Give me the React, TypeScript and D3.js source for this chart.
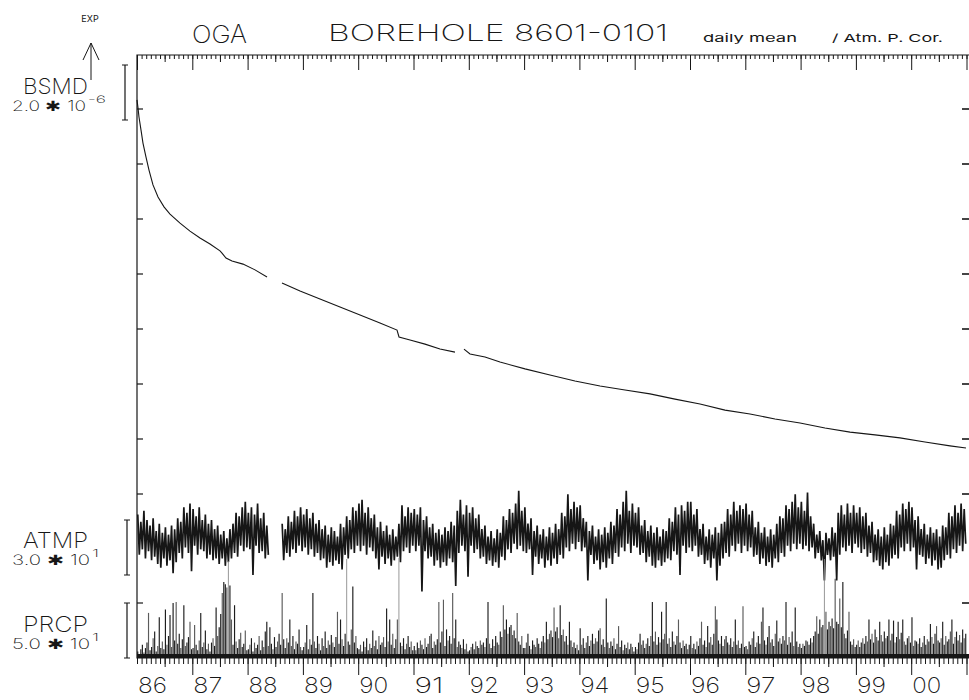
import { useEffect, useRef } from "react";
import * as d3 from "d3";

// time axis: Jan 1986 .. Jan 2001
const START_YEAR = 1986;
const END_YEAR = 2001;
const yearLabels = ["86", "87", "88", "89", "90", "91", "92", "93", "94", "95", "96", "97", "98", "99", "00"];

// BSMD strain in units of 1e-6, [decimal year, value]; null marks a data gap
const bsmdPoints: [number, number | null][] = [
  [1986.0, 0.33], [1986.018, 0.04], [1986.036, -0.29], [1986.072, -0.76], [1986.108, -1.24],
  [1986.163, -1.75], [1986.217, -2.22], [1986.289, -2.76], [1986.38, -3.2], [1986.488, -3.56],
  [1986.597, -3.82], [1986.778, -4.15], [1986.958, -4.44], [1987.139, -4.69], [1987.32, -4.91],
  [1987.501, -5.16], [1987.537, -5.24], [1987.609, -5.42], [1987.718, -5.53], [1987.917, -5.64],
  [1988.134, -5.85], [1988.351, -6.11], [1988.5, null],
  [1988.622, -6.33], [1988.948, -6.62], [1989.309, -6.91], [1989.671, -7.2], [1990.033, -7.49],
  [1990.394, -7.78], [1990.702, -8.04], [1990.738, -8.29], [1990.937, -8.4], [1991.208, -8.55],
  [1991.479, -8.73], [1991.75, -8.84], [1991.83, null],
  [1991.913, -8.73], [1992.022, -8.91], [1992.293, -9.02], [1992.564, -9.2], [1993.016, -9.45],
  [1993.468, -9.67], [1993.92, -9.89], [1994.373, -10.07], [1994.825, -10.22], [1995.277, -10.36],
  [1995.729, -10.55], [1996.181, -10.73], [1996.633, -10.95], [1997.085, -11.09], [1997.537, -11.27],
  [1997.99, -11.42], [1998.441, -11.6], [1998.894, -11.75], [1999.346, -11.85], [1999.797, -11.96],
  [2000.249, -12.11], [2000.702, -12.25], [2000.991, -12.33],
];

// ATMP (atmospheric pressure, hPa): 36 samples per year, alternating high / low
const atmp1986 = [1023, 1001, 1019, 1004, 1025, 999, 1020, 1003, 1017, 998, 1021, 1000, 1014, 996, 1018, 994, 1013, 999, 1016, 995, 1012, 998, 1017, 991, 1015, 997, 1021, 1002, 1019, 999, 1027, 1005, 1024, 1002, 1029, 992];
const atmp1987 = [1026, 1006, 1022, 1001, 1027, 1004, 1020, 1003, 1023, 999, 1018, 1001, 1020, 998, 1015, 999, 1017, 996, 1012, 999, 1014, 995, 1010, 997, 1015, 999, 1018, 1002, 1024, 1000, 1022, 1006, 1027, 1003, 1030, 1005];
const atmp1988 = [1024, 1004, 1027, 990, 1023, 1006, 1029, 1002, 1021, 1003, 1024, 999, 1017, 1001, null, null, null, null, null, null, null, null, 1018, 998, 1015, 1002, 1022, 1000, 1019, 1004, 1025, 1002, 1022, 1006, 1027, 1003];
const atmp1989 = [1023, 1005, 1026, 1001, 1021, 1004, 1024, 1000, 1018, 1002, 1020, 998, 1015, 999, 1017, 994, 1012, 997, 1016, 995, 1014, 998, 1011, 996, 1018, 993, 1016, 1001, 1022, 999, 1020, 1004, 1027, 1002, 1025, 1006];
const atmp1990 = [1029, 1003, 1031, 1006, 1024, 1001, 1027, 1005, 1021, 1003, 1023, 999, 1016, 993, 1019, 1000, 1014, 996, 1017, 999, 1012, 995, 1015, 998, 1011, 1000, 1018, 997, 1028, 1003, 1022, 1005, 1027, 1002, 1024, 1006];
const atmp1991 = [1026, 1003, 1023, 1006, 1027, 981, 1020, 1003, 1022, 999, 1016, 1000, 1018, 995, 1013, 998, 1015, 994, 1012, 997, 1016, 995, 1014, 999, 1019, 997, 1017, 984, 1025, 1002, 1031, 1006, 1023, 1003, 1028, 989];
const atmp1992 = [1024, 1006, 1027, 1002, 1021, 1004, 1023, 999, 1015, 1000, 1017, 996, 1011, 998, 1014, 995, 1010, 997, 1015, 994, 1013, 1000, 1022, 998, 1020, 1004, 1026, 1002, 1024, 1007, 1029, 1004, 1036, 1006, 1025, 1003];
const atmp1993 = [1027, 1002, 1018, 1004, 1021, 990, 1014, 1000, 1017, 996, 1012, 999, 1015, 994, 1011, 998, 1016, 995, 1013, 999, 1018, 996, 1015, 1001, 1024, 999, 1022, 1005, 1034, 1003, 1026, 1007, 1030, 1004, 1027, 1008];
const atmp1994 = [1028, 1003, 1021, 1005, 1019, 987, 1014, 1001, 1017, 996, 1011, 998, 1015, 993, 1012, 997, 1016, 994, 1013, 999, 1019, 996, 1017, 1002, 1026, 1000, 1023, 1005, 1030, 1003, 1036, 1007, 1025, 1002, 1029, 1006];
const atmp1995 = [1024, 1005, 1027, 1001, 1017, 1002, 1020, 997, 1014, 1000, 1017, 995, 1013, 994, 1016, 998, 1011, 995, 1015, 997, 1014, 999, 1021, 998, 1019, 1003, 1027, 1001, 1023, 990, 1028, 1006, 1025, 1002, 1030, 1005];
const atmp1996 = [1030, 1003, 1023, 1006, 1026, 1000, 1015, 1001, 1018, 996, 1011, 998, 1015, 994, 1012, 999, 1016, 987, 1013, 995, 1018, 999, 1019, 1002, 1026, 1000, 1023, 1006, 1030, 1003, 1025, 1007, 1028, 1002, 1026, 1006];
const atmp1997 = [1029, 1003, 1023, 1005, 1025, 1000, 1016, 1001, 1019, 996, 1013, 999, 1016, 995, 1011, 997, 1015, 994, 1012, 999, 1018, 997, 1022, 1002, 1021, 1000, 1028, 1006, 1026, 1003, 1030, 1007, 1034, 1004, 1027, 1007];
const atmp1998 = [1030, 1004, 1025, 1006, 1035, 1003, 1022, 1005, 1018, 999, 1012, 1002, 1014, 998, 1009, 987, 1013, 1001, 1010, 998, 1016, 1000, 1013, 987, 1024, 1001, 1028, 1005, 1023, 1003, 1029, 1006, 1024, 1002, 1028, 1007];
const atmp1999 = [1024, 1005, 1027, 1002, 1022, 1004, 1024, 1000, 1017, 1002, 1019, 997, 1012, 998, 1015, 995, 1011, 993, 1016, 997, 1012, 995, 1018, 999, 1017, 1001, 1025, 999, 1023, 1005, 1029, 1003, 1026, 1007, 1030, 1003];
const atmp2000 = [1027, 1005, 1020, 993, 1022, 1001, 1015, 1000, 1018, 996, 1012, 999, 1016, 995, 1013, 998, 1015, 993, 1011, 994, 1017, 998, 1016, 1001, 1024, 999, 1022, 1004, 1028, 1002, 1024, 1006, 1029, 1003, 1026, 1007];
const atmpByYear: (number | null)[][] = [atmp1986, atmp1987, atmp1988, atmp1989, atmp1990, atmp1991, atmp1992, atmp1993, atmp1994, atmp1995, atmp1996, atmp1997, atmp1998, atmp1999, atmp2000];

// PRCP (precipitation, mm): 36 ten-day maxima per year
const prcp1986 = [6, 3, 8, 12, 5, 9, 14, 41, 7, 10, 18, 24, 6, 11, 37, 9, 15, 8, 44, 12, 20, 39, 10, 50, 16, 51, 13, 22, 9, 17, 48, 11, 14, 19, 33, 8];
const prcp1987 = [9, 30, 12, 7, 16, 41, 10, 14, 25, 8, 13, 6, 14, 18, 11, 46, 20, 28, 40, 59, 69, 67, 64, 88, 66, 35, 12, 48, 15, 9, 17, 23, 10, 13, 25, 7];
const prcp1988 = [8, 12, 18, 6, 14, 9, 12, 20, 7, 16, 10, 24, 33, 11, 28, 13, 8, 19, 10, 15, 22, 12, 59, 17, 9, 18, 14, 35, 11, 20, 8, 15, 13, 26, 10, 7];
const prcp1989 = [10, 14, 30, 8, 17, 12, 59, 15, 9, 20, 13, 7, 18, 11, 24, 9, 16, 12, 21, 14, 10, 19, 42, 13, 35, 17, 11, 22, 90, 15, 12, 26, 65, 14, 20, 9];
const prcp1990 = [8, 12, 6, 15, 10, 18, 7, 13, 9, 25, 11, 16, 8, 20, 12, 14, 19, 10, 45, 15, 35, 12, 22, 9, 17, 35, 91, 14, 11, 18, 8, 13, 20, 10, 15, 7];
const prcp1991 = [11, 7, 14, 9, 16, 12, 8, 18, 10, 13, 20, 22, 9, 15, 12, 17, 51, 14, 24, 53, 11, 26, 16, 20, 13, 59, 18, 35, 10, 15, 12, 9, 17, 8, 13, 6];
const prcp1992 = [7, 10, 13, 8, 15, 11, 9, 16, 12, 14, 10, 18, 51, 13, 9, 17, 11, 20, 14, 12, 24, 19, 48, 26, 35, 22, 28, 30, 21, 25, 18, 41, 15, 12, 20, 9];
const prcp1993 = [9, 14, 22, 11, 8, 16, 12, 10, 18, 13, 9, 15, 20, 14, 33, 17, 22, 25, 19, 46, 24, 28, 18, 48, 21, 26, 15, 20, 12, 33, 16, 10, 14, 9, 12, 7];
const prcp1994 = [27, 12, 18, 9, 14, 20, 11, 16, 22, 13, 18, 15, 25, 27, 12, 17, 10, 54, 14, 9, 15, 11, 18, 8, 13, 29, 10, 16, 7, 12, 9, 14, 8, 13, 10, 6];
const prcp1995 = [10, 8, 14, 22, 12, 16, 9, 13, 18, 11, 20, 51, 15, 24, 12, 19, 14, 42, 17, 22, 51, 13, 18, 10, 24, 15, 12, 20, 35, 14, 9, 16, 11, 13, 8, 12];
const prcp1996 = [20, 9, 13, 8, 15, 11, 18, 33, 12, 16, 10, 29, 14, 19, 12, 22, 47, 35, 16, 13, 20, 11, 17, 20, 14, 12, 18, 10, 15, 35, 12, 16, 9, 13, 47, 10];
const prcp1997 = [11, 8, 15, 12, 18, 24, 10, 14, 20, 13, 33, 46, 16, 12, 19, 29, 14, 17, 11, 22, 34, 15, 18, 13, 20, 16, 51, 12, 19, 14, 24, 11, 46, 15, 10, 13];
const prcp1998 = [9, 13, 11, 16, 15, 12, 18, 14, 20, 24, 38, 22, 35, 28, 30, 90, 42, 26, 33, 29, 36, 27, 72, 33, 31, 54, 28, 69, 22, 18, 25, 42, 15, 12, 17, 10];
const prcp1999 = [12, 16, 10, 14, 18, 13, 20, 15, 35, 17, 22, 14, 26, 19, 16, 33, 21, 15, 24, 18, 20, 35, 16, 22, 34, 14, 19, 33, 17, 23, 35, 15, 12, 18, 20, 14];
const prcp2000 = [37, 11, 16, 15, 13, 18, 10, 14, 20, 12, 17, 15, 31, 19, 13, 22, 29, 16, 14, 18, 33, 12, 20, 15, 17, 24, 35, 13, 19, 24, 16, 21, 14, 26, 18, 22];
const prcpByYear = [prcp1986, prcp1987, prcp1988, prcp1989, prcp1990, prcp1991, prcp1992, prcp1993, prcp1994, prcp1995, prcp1996, prcp1997, prcp1998, prcp1999, prcp2000];

// channel labels: name, scale mantissa, exponent
const channels = [
  { name: "BSMD", mant: "2.0", exp: "-6" },
  { name: "ATMP", mant: "3.0", exp: "1" },
  { name: "PRCP", mant: "5.0", exp: "1" },
];

const FONT = "Inter, 'Noto Sans', 'DejaVu Sans', sans-serif";

export default function App() {
  const ref = useRef<SVGSVGElement>(null);

  useEffect(() => {
    const svg = d3.select(ref.current);
    svg.selectAll("*").remove();

    const left = 137, right = 969, top = 55, bottom = 658;
    const x = d3.scaleLinear().domain([START_YEAR, END_YEAR]).range([137, 966.5]);
    const yBsmd = d3.scaleLinear().domain([0, -14]).range([109, 494]);
    const yAtmp = d3.scaleLinear().domain([990, 1020]).range([575, 520]);
    const yPrcp = d3.scaleLinear().domain([0, 50]).range([658, 603]);

    const ink = "#161616";

    // frame
    svg.append("path")
      .attr("d", `M${right},${top}H${left}V${bottom}H${right}`)
      .attr("fill", "none").attr("stroke", ink).attr("stroke-width", 1.2);

    const months = d3.range(0, (END_YEAR - START_YEAR) * 12 + 1).map(m => START_YEAR + m / 12);
    const years = d3.range(START_YEAR, END_YEAR + 1);
    const halves = years.map(yy => yy + 0.5).filter(v => v < END_YEAR);

    const tickAxis = (axis: d3.Axis<d3.NumberValue>, ty: number) => {
      const g = svg.append("g").attr("transform", `translate(0,${ty})`).call(axis);
      g.select(".domain").remove();
      g.selectAll("text").remove();
      g.selectAll("line").attr("stroke", ink).attr("stroke-width", 1);
    };
    // top ruler, ticks pointing down
    tickAxis(d3.axisTop(x).tickValues(months).tickSize(-4), top);
    tickAxis(d3.axisTop(x).tickValues(halves).tickSize(-7), top);
    tickAxis(d3.axisTop(x).tickValues(years).tickSize(-15), top);
    // bottom axis, ticks pointing down
    tickAxis(d3.axisBottom(x).tickValues(months).tickSize(6), bottom);
    tickAxis(d3.axisBottom(x).tickValues(halves).tickSize(9), bottom);
    tickAxis(d3.axisBottom(x).tickValues(years.slice(1)).tickSize(17), bottom);

    // year labels
    svg.append("g").selectAll("text").data(yearLabels).join("text")
      .attr("x", (_, i) => x(START_YEAR + i) + 1)
      .attr("y", 693)
      .attr("textLength", 29).attr("lengthAdjust", "spacingAndGlyphs")
      .attr("font-family", FONT).attr("font-weight", 200).attr("font-size", 22)
      .attr("fill", ink).text(d => d);

    // left / right inner ticks
    const ys = d3.range(0, -15, -2).map(v => yBsmd(v)).concat([yPrcp(50)]);
    svg.append("g").selectAll("line").data(ys).join("line")
      .attr("x1", left).attr("x2", left + 6).attr("y1", d => d).attr("y2", d => d)
      .attr("stroke", ink).attr("stroke-width", 1.2);
    svg.append("g").selectAll("line").data(ys).join("line")
      .attr("x1", 962).attr("x2", 969).attr("y1", d => d).attr("y2", d => d)
      .attr("stroke", ink).attr("stroke-width", 1.6);

    // BSMD curve
    const bsmdLine = d3.line<[number, number | null]>()
      .defined(d => d[1] !== null)
      .x(d => x(d[0])).y(d => yBsmd(d[1] as number));
    svg.append("path").datum(bsmdPoints).attr("d", bsmdLine)
      .attr("fill", "none").attr("stroke", ink).attr("stroke-width", 1.1);

    // ATMP trace
    const atmpData: [number, number | null][] = [];
    atmpByYear.forEach((arr, yi) => {
      arr.forEach((v, i) => atmpData.push([START_YEAR + yi + (i + 0.5) / arr.length, v]));
    });
    const atmpLine = d3.line<[number, number | null]>()
      .defined(d => d[1] !== null)
      .x(d => x(d[0])).y(d => yAtmp(d[1] as number));
    svg.append("path").datum(atmpData).attr("d", atmpLine)
      .attr("fill", "none").attr("stroke", ink).attr("stroke-width", 1.7)
      .attr("stroke-linejoin", "bevel");

    // PRCP spikes
    const prcpData: [number, number][] = [];
    prcpByYear.forEach((arr, yi) => {
      arr.forEach((v, i) => prcpData.push([START_YEAR + yi + (i + 0.5) / arr.length, v]));
    });
    svg.append("g").selectAll("line").data(prcpData).join("line")
      .attr("x1", d => x(d[0])).attr("x2", d => x(d[0]))
      .attr("y1", yPrcp(0)).attr("y2", d => yPrcp(d[1]))
      .attr("stroke", d => (d[1] > 80 ? "#8c8c8c" : ink))
      .attr("stroke-width", d => (d[1] > 80 ? 0.9 : 1.15))
      .attr("opacity", (d, i) => (d[1] > 80 ? 1 : i % 3 === 1 ? 0.7 : 0.97));
    svg.append("line").attr("x1", left).attr("x2", right).attr("y1", bottom - 2).attr("y2", bottom - 2)
      .attr("stroke", ink).attr("stroke-width", 4);

    // scale bars
    const scaleBar = (bx: number, y1: number, y2: number) => {
      svg.append("path")
        .attr("d", `M${bx - 3},${y1}H${bx + 3}M${bx},${y1}V${y2}M${bx - 3},${y2}H${bx + 3}`)
        .attr("fill", "none").attr("stroke", ink).attr("stroke-width", 1.2);
    };
    scaleBar(125, yBsmd(1.6), yBsmd(-0.4));
    scaleBar(127, yAtmp(1020), yAtmp(990));
    scaleBar(127, yPrcp(50), yPrcp(0));

    const text = (s: string, tx: number, ty: number, size: number, len = 0, anchor = "start") => {
      const t = svg.append("text").attr("x", tx).attr("y", ty)
        .attr("font-family", FONT).attr("font-weight", 200).attr("font-size", size)
        .attr("fill", ink).attr("text-anchor", anchor).text(s);
      if (len) t.attr("textLength", len).attr("lengthAdjust", "spacingAndGlyphs");
      return t;
    };

    // title
    text("OGA", 192, 43, 25, 55);
    text("BOREHOLE 8601-0101", 328, 41, 23, 340);
    text("daily mean", 703, 42, 11, 94).attr("font-weight", 400);
    text("/ Atm. P. Cor.", 832, 42, 11, 111).attr("font-weight", 400);

    // EXP arrow
    text("EXP", 90, 22, 9, 0, "middle").attr("font-weight", 400);
    svg.append("path").attr("d", "M91,80V43M83,60L91,43L99,60")
      .attr("fill", "none").attr("stroke", ink).attr("stroke-width", 1);

    // channel labels with scale factors
    const nameY = [94, 548, 632];
    channels.forEach((c, i) => {
      const ty = nameY[i];
      text(c.name, 23, ty, 22, 65);
      const long = c.exp.length > 1;
      const endX = long ? 86 : 90;
      text(`${c.mant} \u2731 10`, 12, ty + 17, 14, endX - 12);
      text(c.exp, endX + 2, ty + 9, 10, long ? 18 : 7);
    });
  }, []);

  return (
    <svg ref={ref} width={969} height={700}
      style={{ position: "absolute", left: 0, top: 0, background: "#fff" }} />
  );
}
